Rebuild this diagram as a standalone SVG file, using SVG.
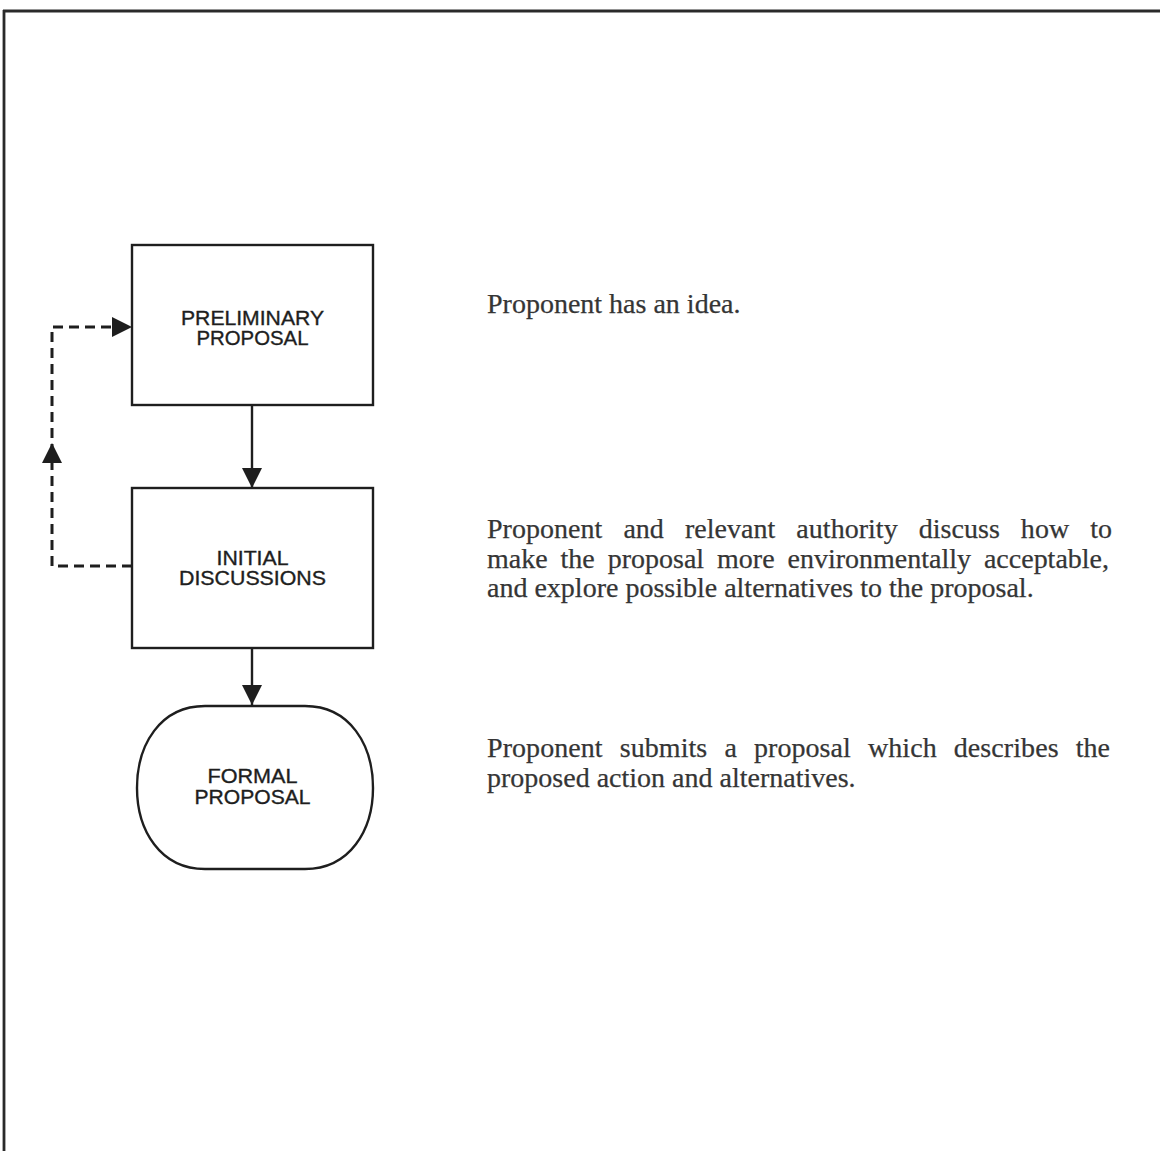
<svg xmlns="http://www.w3.org/2000/svg" width="1160" height="1151" viewBox="0 0 1160 1151">
  <style>
    .frame { stroke: #2a2a2a; stroke-width: 2.8; fill: none; }
    .node { fill: #ffffff; stroke: #1e1e1e; stroke-width: 2.4; }
    .label { font-family: "Liberation Sans", Arial, sans-serif; font-size: 20px; fill: #1e1e1e; stroke: #1e1e1e; stroke-width: 0.35; text-anchor: middle; }
    .flow { stroke: #1e1e1e; stroke-width: 2.4; fill: none; }
    .loop { stroke: #1e1e1e; stroke-width: 3; fill: none; stroke-dasharray: 10 6; }
    .note { font-family: "Liberation Serif", "Times New Roman", serif; font-size: 28px; fill: #353535; stroke: #353535; stroke-width: 0.25; }
  </style>
  <defs>
    <marker id="head" viewBox="0 0 20 20" refX="20" refY="10" markerWidth="20" markerHeight="20" markerUnits="userSpaceOnUse" orient="auto">
      <path d="M0,0 L20,10 L0,20 Z" fill="#1e1e1e"/>
    </marker>
  </defs>

  <rect width="1160" height="1151" fill="#ffffff"/>

  <!-- page frame: top rule and left rule -->
  <path class="frame" d="M3,11 L1160,11 M4,10 L4,1151"/>

  <g id="connectors">
    <path class="flow" d="M252,405 L252,488" marker-end="url(#head)"/>
    <path class="flow" d="M252,648 L252,705" marker-end="url(#head)"/>
    <path class="loop" d="M132,566 L52,566 L52,327 L132,327" marker-end="url(#head)"/>
    <path d="M52,470 L52,443" stroke="none" fill="none" marker-end="url(#head)"/>
  </g>

  <g id="preliminary-proposal">
    <rect class="node" x="132" y="245" width="241" height="160"/>
    <text class="label" x="252.5" y="325" textLength="143" lengthAdjust="spacingAndGlyphs">PRELIMINARY</text>
    <text class="label" x="252.5" y="345" textLength="112" lengthAdjust="spacingAndGlyphs">PROPOSAL</text>
  </g>

  <g id="initial-discussions">
    <rect class="node" x="132" y="488" width="241" height="160"/>
    <text class="label" x="252.5" y="565" textLength="72" lengthAdjust="spacingAndGlyphs">INITIAL</text>
    <text class="label" x="252.5" y="585" textLength="147" lengthAdjust="spacingAndGlyphs">DISCUSSIONS</text>
  </g>

  <g id="formal-proposal">
    <path class="node" d="M205,706 L305,706 C350,706 373,745 373,788 C373,830 350,869 305,869 L205,869 C160,869 137,830 137,788 C137,745 160,706 205,706 Z"/>
    <text class="label" x="252.5" y="783" textLength="90" lengthAdjust="spacingAndGlyphs">FORMAL</text>
    <text class="label" x="252.5" y="804" textLength="116" lengthAdjust="spacingAndGlyphs">PROPOSAL</text>
  </g>

  <g id="notes">
    <text class="note" x="487" y="313">Proponent has an idea.</text>

    <text class="note" x="487" y="538" word-spacing="14" textLength="625" lengthAdjust="spacing">Proponent and relevant authority discuss how to</text>
    <text class="note" x="487" y="568" word-spacing="6" textLength="622" lengthAdjust="spacing">make the proposal more environmentally acceptable,</text>
    <text class="note" x="487" y="597">and explore possible alternatives to the proposal.</text>

    <text class="note" x="487" y="757" word-spacing="10" textLength="623" lengthAdjust="spacing">Proponent submits a proposal which describes the</text>
    <text class="note" x="487" y="787">proposed action and alternatives.</text>
  </g>
</svg>
